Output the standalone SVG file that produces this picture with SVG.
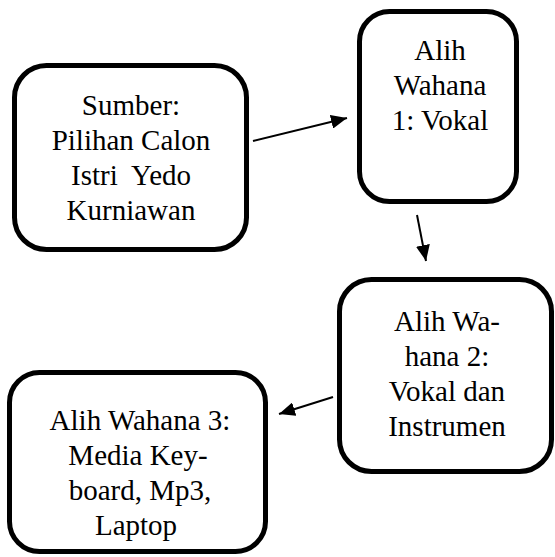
<svg xmlns="http://www.w3.org/2000/svg" width="555" height="557" viewBox="0 0 555 557">
<style>
.box{fill:#fff;stroke:#000;stroke-width:5}
.t{font-size:29px;fill:#000;text-anchor:middle}
.c{stroke:#000;stroke-width:2;fill:none;marker-end:url(#ah)}
</style>
<defs>
<marker id="ah" markerUnits="userSpaceOnUse" markerWidth="16" markerHeight="14" refX="16" refY="7" orient="auto">
<path d="M0,0 L16,7 L0,14 z" fill="#000"/>
</marker>
</defs>
<rect width="555" height="557" fill="#fff"/>
<g font-family="Liberation Serif, Tinos, Times New Roman, Times, Noto Serif, DejaVu Serif, serif">
<g id="sumber">
<rect class="box" x="14.5" y="65.5" width="232" height="184" rx="32"/>
<text class="t" x="131" y="115">Sumber:</text>
<text class="t" x="131" y="150">Pilihan Calon</text>
<text class="t" x="131" y="185" xml:space="preserve">Istri  Yedo</text>
<text class="t" x="131" y="220">Kurniawan</text>
</g>
<g id="wahana1">
<rect class="box" x="359.5" y="11.5" width="157" height="190" rx="30"/>
<text class="t" x="440" y="60">Alih</text>
<text class="t" x="440" y="95">Wahana</text>
<text class="t" x="440" y="130">1: Vokal</text>
</g>
<g id="wahana2">
<rect class="box" x="339.5" y="279.5" width="212" height="192" rx="32"/>
<text class="t" x="447" y="331">Alih Wa-</text>
<text class="t" x="447" y="366">hana 2:</text>
<text class="t" x="447" y="401">Vokal dan</text>
<text class="t" x="447" y="436">Instrumen</text>
</g>
<g id="wahana3">
<rect class="box" x="9.5" y="372.5" width="256" height="179" rx="30"/>
<text class="t" x="140" y="430">Alih Wahana 3:</text>
<text class="t" x="138" y="465">Media Key-</text>
<text class="t" x="140" y="500">board, Mp3,</text>
<text class="t" x="136" y="535">Laptop</text>
</g>
</g>
<g id="connectors">
<line class="c" x1="253" y1="141" x2="347" y2="118"/>
<line class="c" x1="417" y1="215" x2="426" y2="261"/>
<line class="c" x1="333" y1="397" x2="279" y2="414"/>
</g>
</svg>
